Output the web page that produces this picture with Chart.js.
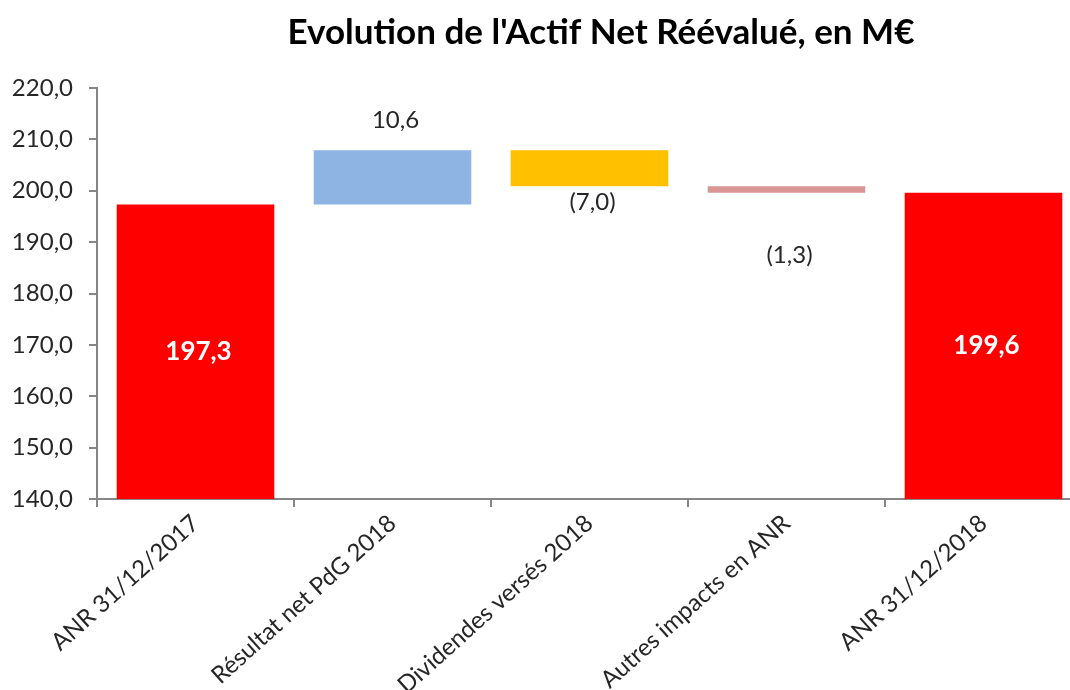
<!DOCTYPE html>
<html>
<head>
<meta charset="utf-8">
<script src="https://cdn.jsdelivr.net/npm/chart.js@4.4.1/dist/chart.umd.min.js"></script>
<style>
  html, body { margin: 0; padding: 0; background: #fff; overflow: hidden; }
  #wrap { width: 1090px; height: 690px; position: relative; }
</style>
</head>
<body>
<div id="wrap"><canvas id="anr-chart"></canvas></div>
<script>
// données du graphique (waterfall ANR)
const categories = [
    'ANR 31/12/2017',
    'Résultat net PdG 2018',
    'Dividendes versés 2018',
    'Autres impacts en ANR',
    'ANR 31/12/2018'
];
const steps = [197.3, 10.6, -7.0, -1.3, 199.6];
const kinds = ['total', 'delta', 'delta', 'delta', 'total'];
const yTickValues = [140, 150, 160, 170, 180, 190, 200, 210, 220];

const titleText = "Evolution de l'Actif Net Réévalué, en M€";
const fontFamily = 'Lato, "Open Sans", sans-serif';

/* construit les barres flottantes à partir des variations */
let running = 0;
const barData = steps.map(function (v, i) {
    if (kinds[i] === 'total') {
        running = v;
        return v;
    }
    const start = running;
    running = running + v;
    return [start, running];
});

const fmt = function (v) {
    return Math.abs(v).toFixed(1).replace('.', ',');
}

const labelText = function (i) {
    const v = steps[i];
    if (kinds[i] === 'total' || v >= 0) return fmt(v);
    return '(' + fmt(v) + ')';
}

// distance entre le bord de la barre et le centre de l'étiquette
const labelGap = [0, 30, 16, 62, 0];

const valueLabels = {
    id: 'valueLabels',
    afterDatasetsDraw(chart) {
        const c = chart.ctx;
        const meta = chart.getDatasetMeta(0);
        const yScale = chart.scales.y;
        c.save();
        c.textAlign = 'center';
        c.textBaseline = 'middle';
        meta.data.forEach(function (bar, i) {
            let y;
            if (kinds[i] === 'total') {
                c.fillStyle = '#ffffff';
                c.font = 'bold 26px ' + fontFamily;
                const top = yScale.getPixelForValue(steps[i]);
                y = (top + yScale.bottom) / 2;
            } else {
                const a = yScale.getPixelForValue(barData[i][0]);
                const b = yScale.getPixelForValue(barData[i][1]);
                c.fillStyle = '#262626';
                c.font = '24px ' + fontFamily;
                y = steps[i] >= 0 ? Math.min(a, b) - labelGap[i] : Math.max(a, b) + labelGap[i];
            }
            c.fillText(labelText(i), bar.x + 3, y);
        });
        c.restore();
    }
}

const chartTitle = {
    id: 'chartTitle',
    afterDraw(chart) {
        const c = chart.ctx;
        c.save();
        c.fillStyle = '#000000';
        c.font = 'bold 35px ' + fontFamily;
        c.textAlign = 'center';
        c.textBaseline = 'middle';
        c.fillText(titleText, 601, 33);
        c.restore();
    }
}

const ctx = document.getElementById('anr-chart');

const data = {
    labels: categories,
    datasets: [{
        label: 'ANR',
        data: barData,
        backgroundColor: ['#FF0000', '#8EB4E3', '#FFC000', '#D99694', '#FF0000'],
        borderWidth: 0,
        barPercentage: 0.8,
        categoryPercentage: 1
    }]
}

const config = {
    type: 'bar',
    data: data,
    plugins: [valueLabels, chartTitle],
    options: {
        responsive: true,
        maintainAspectRatio: false,
        animation: false,
        layout: {
            padding: { top: 88, right: 8, left: 0, bottom: 0 }
        },
        plugins: {
            legend: { display: false },
            title: { display: false },
            tooltip: { enabled: false }
        },
        scales: {
            x: {
                afterFit: function (scale) { scale.height = 191; },
                grid: {
                    display: true,
                    drawOnChartArea: false,
                    drawTicks: true,
                    tickLength: 8,
                    color: '#868686',
                    lineWidth: 2,
                    offset: true
                },
                border: { color: '#868686', width: 2 },
                ticks: {
                    autoSkip: false,
                    minRotation: 42,
                    maxRotation: 42,
                    padding: 2,
                    color: '#262626',
                    font: { family: fontFamily, size: 24 }
                }
            },
            y: {
                min: yTickValues[0],
                max: yTickValues[yTickValues.length - 1],
                afterFit: function (scale) { scale.width = 97; },
                afterBuildTicks: function (scale) {
                    scale.ticks = yTickValues.map(function (v) { return { value: v }; });
                },
                grid: {
                    display: true,
                    drawOnChartArea: false,
                    drawTicks: true,
                    tickLength: 8,
                    color: '#868686',
                    lineWidth: 2
                },
                border: { color: '#868686', width: 2 },
                ticks: {
                    padding: 16,
                    color: '#262626',
                    font: { family: fontFamily, size: 24 },
                    callback: function (v) { return Number(v).toFixed(1).replace('.', ','); }
                }
            }
        }
    }
}

const myChart = new Chart(ctx, config);
</script>
</body>
</html>
